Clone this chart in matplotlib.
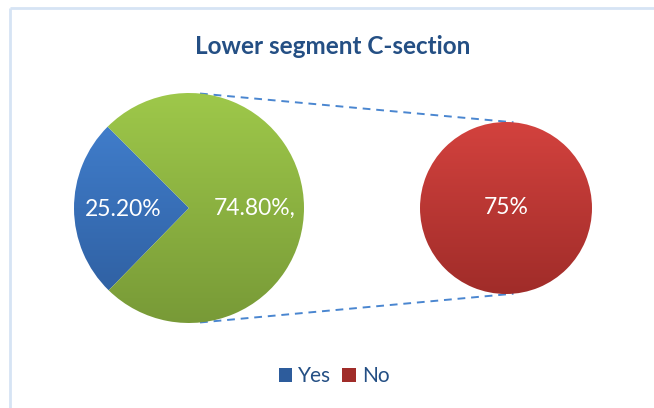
import matplotlib
matplotlib.use("Agg")
import matplotlib.pyplot as plt
import numpy as np
from matplotlib.patches import Patch
from matplotlib.colors import LinearSegmentedColormap

plt.rcParams['font.family'] = ['Lato', 'DejaVu Sans']

# ---- data ----
title = "Lower segment C-section"
categories = ["Yes", "No"]
main_values = [25.2, 74.8]
main_labels = ["25.20%", "74.80%,"]
secondary_values = [75]
secondary_labels = ["75%"]

W, H = 654, 408
fig = plt.figure(figsize=(W / 100, H / 100), dpi=100)
ax = fig.add_axes([0, 0, 1, 1])

# colors (top, bottom) for gradients
blue = ("#4382d2", "#2d5c9c")
green = ("#9ec84a", "#789a37")
red = ("#d3423e", "#a02c29")

c1, r1 = (189, 200), 115
c2, r2 = (506, 200), 86


def grad_fill(patch, center, radius, cols):
    cmap = LinearSegmentedColormap.from_list("g", [cols[1], cols[0]])
    grad = np.linspace(0, 1, 256).reshape(-1, 1)
    im = ax.imshow(grad, cmap=cmap, origin="lower", aspect="auto",
                   extent=[center[0] - radius, center[0] + radius,
                           center[1] - radius, center[1] + radius],
                   zorder=1)
    im.set_clip_path(patch)
    patch.set_facecolor("none")


wedges, _ = ax.pie(main_values, startangle=135, counterclock=True,
                   center=c1, radius=r1, frame=True,
                   wedgeprops=dict(linewidth=0))
for w, cols in zip(wedges, [blue, green]):
    grad_fill(w, c1, r1, cols)
for w, lab in zip(wedges, main_labels):
    mid = np.deg2rad((w.theta1 + w.theta2) / 2)
    ax.text(c1[0] + 0.57 * r1 * np.cos(mid), c1[1] + 0.57 * r1 * np.sin(mid) - 1,
            lab, color="white", fontsize=16.5, ha="center", va="center", zorder=5)

wedges2, _ = ax.pie([1], center=c2, radius=r2, frame=True,
                    wedgeprops=dict(linewidth=0))
grad_fill(wedges2[0], c2, r2, red)
ax.text(c2[0], c2[1] + 1, secondary_labels[0], color="white", fontsize=16.5,
        ha="center", va="center", zorder=5)

# connector dashed lines
for a1, a2 in [(84.5, 85), (-84.5, -85)]:
    p1 = (c1[0] + r1 * np.cos(np.deg2rad(a1)), c1[1] + r1 * np.sin(np.deg2rad(a1)))
    p2 = (c2[0] + r2 * np.cos(np.deg2rad(a2)), c2[1] + r2 * np.sin(np.deg2rad(a2)))
    ax.plot([p1[0], p2[0]], [p1[1], p2[1]], ls=(0, (4, 3)), color="#4a86d0",
            lw=1.4, zorder=0)

# border
ax.plot([9.5, W], [H - 7.5, H - 7.5], color="#d6e4f4", lw=2, zorder=0,
        solid_capstyle="butt")
ax.plot([9.5, 9.5], [0, H - 7.5], color="#d6e4f4", lw=2, zorder=0,
        solid_capstyle="butt")

ax.set_xlim(0, W)
ax.set_ylim(0, H)
ax.set_aspect("equal")
ax.axis("off")

fig.text(333 / W, 1 - 46 / H, title, ha="center", va="center", fontsize=17.5,
         fontweight="bold", color="#244f84")

handles = [Patch(facecolor=blue[1], edgecolor="none"),
           Patch(facecolor=red[1], edgecolor="none")]
fig.legend(handles, categories, loc="center", bbox_to_anchor=(334 / W, 1 - 376 / H),
           ncol=2, frameon=False, fontsize=15, handlelength=0.65, handleheight=0.65,
           handletextpad=0.3, columnspacing=0.5, labelcolor="#244f84")

fig.savefig("out.png", dpi=100)
